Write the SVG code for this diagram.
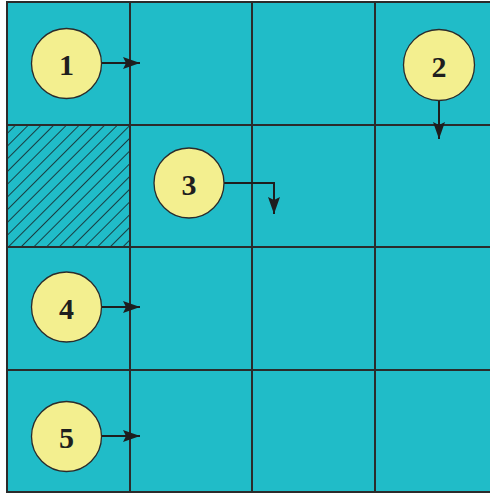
<svg xmlns="http://www.w3.org/2000/svg" width="490" height="497" viewBox="0 0 490 497">
<defs>
<style>
.cell{fill:#20BCC8;stroke:#2b2b2b;stroke-width:2}
.node circle{fill:#F3EF8F;stroke:#2b2b2b;stroke-width:1.3}
.node text{font-family:"Liberation Serif","Times New Roman",serif;font-weight:bold;font-size:30px;fill:#1e1e1e;text-anchor:middle}
.conn{fill:none;stroke:#1e1e1e;stroke-width:2}
</style>
<marker id="ah" viewBox="0 0 17 12" refX="17" refY="6" markerWidth="17" markerHeight="12" markerUnits="userSpaceOnUse" orient="auto" preserveAspectRatio="none">
<path d="M0,0 L17,6 L0,12 L3,6 Z" fill="#1e1e1e"/>
</marker>
<pattern id="hp" patternUnits="userSpaceOnUse" width="9" height="9" patternTransform="rotate(45)">
<line x1="0" y1="-1" x2="0" y2="10" stroke="#16282b" stroke-width="1.7"/>
</pattern>
</defs>
<g id="grid">
<rect class="cell" x="7" y="2" width="500" height="490"/>
<path d="M130,2V492 M252,2V492 M375,2V492 M7,125H497 M7,247H497 M7,370H497" stroke="#2b2b2b" stroke-width="2" fill="none"/>
</g>
<g id="hatched-cell">
<rect x="8" y="126" width="121" height="120" fill="url(#hp)"/>
</g>
<g id="connectors">
<path class="conn" d="M102,63H140" marker-end="url(#ah)"/>
<path class="conn" d="M439,100V139" marker-end="url(#ah)"/>
<path class="conn" d="M224,183H274V214" marker-end="url(#ah)"/>
<path class="conn" d="M101,307H140" marker-end="url(#ah)"/>
<path class="conn" d="M101,436H140" marker-end="url(#ah)"/>
</g>
<g id="node1" class="node"><circle cx="66.5" cy="63.5" r="35"/><text x="66.5" y="75">1</text></g>
<g id="node2" class="node"><circle cx="439" cy="65" r="35.5"/><text x="439" y="76.5">2</text></g>
<g id="node3" class="node"><circle cx="189" cy="183" r="35"/><text x="189" y="194.5">3</text></g>
<g id="node4" class="node"><circle cx="66.5" cy="307" r="35"/><text x="66.5" y="318.5">4</text></g>
<g id="node5" class="node"><circle cx="66.5" cy="436.5" r="35"/><text x="66.5" y="448">5</text></g>
</svg>
